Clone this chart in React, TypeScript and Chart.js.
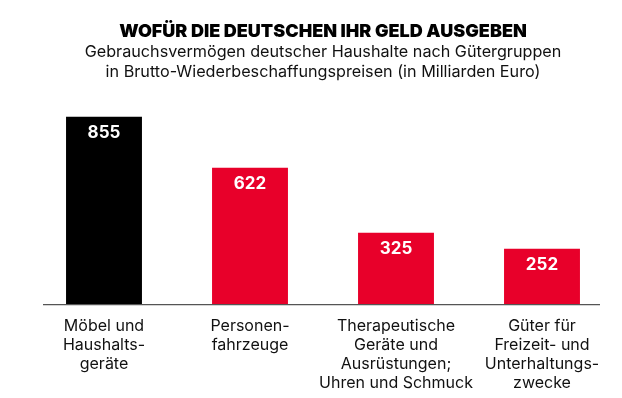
import React, { useEffect, useRef } from "react";
import { Chart, registerables } from "chart.js";

Chart.register(...registerables);

const categories: string[][] = [
  ["Möbel und", "Haushalts-", "geräte"],
  ["Personen-", "fahrzeuge"],
  ["Therapeutische", "Geräte und", "Ausrüstungen;", "Uhren und Schmuck"],
  ["Güter für", "Freizeit- und", "Unterhaltungs-", "zwecke"],
];
const values: number[] = [855, 622, 325, 252];
const barColors: string[] = ["#000000", "#E8002A", "#E8002A", "#E8002A"];
const titleText = "WOFÜR DIE DEUTSCHEN IHR GELD AUSGEBEN";
const subtitleLines: string[] = [
  "Gebrauchsvermögen deutscher Haushalte nach Gütergruppen",
  "in Brutto-Wiederbeschaffungspreisen (in Milliarden Euro)",
];

const FONT = "Inter, Roboto, sans-serif";

const valueLabels = {
  id: "valueLabels",
  afterDatasetsDraw(chart: any) {
    const ctx = chart.ctx;
    const meta = chart.getDatasetMeta(0);
    ctx.save();
    ctx.fillStyle = "#ffffff";
    ctx.font = `bold 17px ${FONT}`;
    ctx.textAlign = "center";
    ctx.textBaseline = "middle";
    meta.data.forEach((bar: any, i: number) => {
      ctx.fillText(String(values[i]), bar.x, bar.y + 16);
    });
    ctx.restore();
  },
};

const baseline = {
  id: "baseline",
  afterDatasetsDraw(chart: any) {
    const { ctx, chartArea } = chart;
    const y = chart.scales.y.getPixelForValue(0);
    ctx.save();
    ctx.strokeStyle = "#555555";
    ctx.lineWidth = 1.2;
    ctx.beginPath();
    ctx.moveTo(chartArea.left + 12, y + 0.5);
    ctx.lineTo(chartArea.right - 15, y + 0.5);
    ctx.stroke();
    ctx.restore();
  },
};

export default function App() {
  const ref = useRef<HTMLCanvasElement>(null);
  useEffect(() => {
    document.body.style.margin = "0";
    const chart = new Chart(ref.current!, {
      type: "bar",
      data: {
        labels: categories,
        datasets: [
          {
            data: values,
            backgroundColor: barColors,
            borderWidth: 0,
            barPercentage: 0.52,
            categoryPercentage: 1,
          },
        ],
      },
      options: {
        animation: false,
        responsive: false,
        layout: { padding: { left: 31, right: 7, top: 0, bottom: -7 } },
        plugins: {
          legend: { display: false },
          tooltip: { enabled: false },
          title: {
            display: true,
            text: titleText,
            color: "#000",
            font: { family: FONT, size: 18, weight: "900", lineHeight: 1.2 },
            padding: { top: 21, bottom: 0 },
          },
          subtitle: {
            display: true,
            text: subtitleLines,
            color: "#111",
            font: { family: FONT, size: 16.2, weight: "normal", lineHeight: 1.2 },
            padding: { top: 0, bottom: 35 },
          },
        },
        scales: {
          x: {
            grid: { display: false, drawTicks: false },
            border: { display: false },
            ticks: {
              color: "#111",
              font: { family: FONT, size: 16, lineHeight: 1.2 },
              padding: 12,
              maxRotation: 0,
              autoSkip: false,
            },
          },
          y: {
            display: false,
            min: 0,
            max: 855,
          },
        },
      },
      plugins: [valueLabels, baseline],
    });
    return () => chart.destroy();
  }, []);
  return <canvas ref={ref} width={622} height={398} style={{ display: "block" }} />;
}
